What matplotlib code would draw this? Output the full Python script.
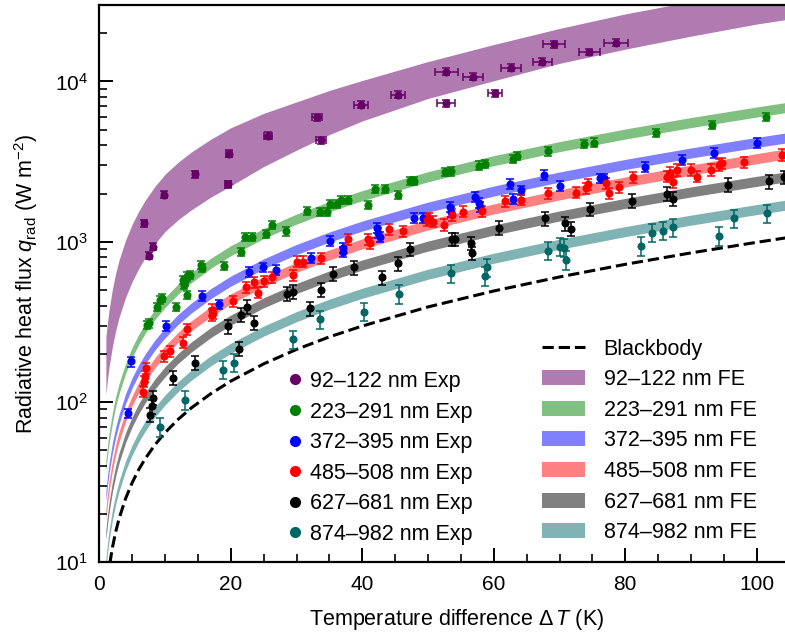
import numpy as np
import matplotlib
matplotlib.use("Agg")
import matplotlib.pyplot as plt
from matplotlib.lines import Line2D
from matplotlib.patches import Patch
from matplotlib.ticker import MultipleLocator

plt.rcParams["font.family"] = ["Liberation Sans", "DejaVu Sans"]
plt.rcParams["mathtext.fontset"] = "custom"
plt.rcParams["mathtext.rm"] = "Liberation Sans"
plt.rcParams["mathtext.it"] = "Liberation Sans:italic"

# temperature grid for the model curves (K)
dT_grid = [1, 1.25, 1.5, 2, 2.5, 3, 4, 5, 6, 7, 8.5, 10, 12, 14, 17, 20, 25, 30,
           35, 40, 50, 60, 70, 80, 90, 100, 105]

blackbody = [6.2, 7.7, 9.25, 12.4, 15.5, 18.7, 25.0, 31.4, 37.9, 44.4, 54.3, 64.4,
             78.0, 91.9, 113, 135, 173, 213, 255, 298, 392, 493, 603, 723, 852,
             992, 1066]

# 92-122 nm FE band, lower and upper bound
fe_purple_lo = [111, 139, 167, 223, 279, 337, 450, 565, 681, 799, 977, 1159, 1373,
                1581, 1903, 2232, 2946, 3729, 4663, 5670, 7832, 10107, 12973,
                15908, 19179, 22823, 24525]
fe_purple_hi = [254, 316, 379, 508, 636, 767, 1025, 1287, 1552, 1820, 2226, 2640,
                3136, 3631, 4373, 5141, 6325, 7459, 8791, 10146, 13314, 17009,
                21421, 26393, 31539, 36715, 39453]

# narrow FE bands: centre values
fe_green = [40, 50, 60, 80, 101, 121, 162, 204, 246, 289, 353, 418, 507, 597, 736,
            879, 1126, 1385, 1656, 1940, 2545, 3205, 3922, 4700, 5541, 6450, 6931]
fe_blue = [25.8, 32.3, 38.9, 52, 65, 78, 105, 132, 159, 186, 228, 270, 328, 386,
           476, 568, 728, 895, 1070, 1253, 1645, 2071, 2534, 3037, 3580, 4168, 4478]
fe_red = [20, 25, 30, 40.2, 50.4, 60.6, 81.2, 102, 123, 144, 176.5, 209, 253.5,
          298.7, 368, 440, 563, 693, 828, 970, 1273, 1602, 1961, 2360, 2800, 3300,
          3560]
fe_gray = [14.8, 18.5, 22.2, 29.7, 37.2, 44.8, 60, 75.3, 90.9, 106.5, 130.3, 154.5,
           187.2, 220.6, 272, 324.7, 416, 511, 612, 716, 940, 1183, 1448, 1735,
           2046, 2382, 2559]
fe_teal = [9.8, 12.3, 14.8, 19.8, 24.8, 29.8, 40, 50.2, 60.6, 71, 86.9, 103, 124.8,
           147, 181.3, 216.5, 277, 341, 408, 477, 627, 789, 965, 1157, 1364, 1588,
           1706]
fe_spread = 1.075  # half-width factor of the narrow bands

# measured points
exp_purple_dT = [6.8, 8.1, 7.6, 9.9, 14.5, 19.7, 19.6, 25.6, 33.1, 33.7, 39.8, 45.4,
                 52.8, 52.7, 56.8, 60.2, 62.6, 67.4, 69.2, 74.5, 78.6]
exp_purple_q = [1306, 934, 817, 1963, 2630, 3540, 2290, 4600, 5960, 4290, 7160, 8260,
                11530, 7330, 10740, 8470, 12220, 13270, 17020, 15290, 17500]
exp_purple_xerr = [0.3, 0.3, 0.3, 0.3, 0.3, 0.5, 0.5, 0.6, 0.8, 0.8, 1.0, 1.1, 1.7,
                   1.4, 1.5, 1.1, 1.5, 1.5, 1.7, 1.6, 1.8]

exp_green_dT = [7.2, 7.5, 8.8, 9.3, 9.6, 11.7, 12.7, 12.9, 13.0, 13.3, 13.4, 13.8,
                15.5, 15.6, 19.0, 21.6, 22.2, 23.3, 25.3, 26.2, 28.4, 31.6, 33.5,
                34.6, 35.1, 36.1, 36.7, 37.9, 40.8, 41.9, 43.5, 45.5, 47.2, 47.9,
                52.6, 53.5, 57.7, 58.7, 63.0, 63.5, 68.3, 73.7, 75.3, 84.7, 93.2,
                101.4]
exp_green_q = [303, 310, 391, 434, 447, 394, 578, 538, 565, 607, 467, 621, 718, 684,
               710, 868, 1070, 1070, 1120, 1276, 1160, 1560, 1540, 1540, 1726, 1726,
               1830, 1830, 1700, 2140, 2140, 1963, 2400, 2390, 2730, 2750, 2990,
               3060, 3280, 3440, 3660, 4080, 4160, 4760, 5370, 6040]

exp_blue_dT = [4.4, 4.8, 10.1, 15.6, 18.2, 22.8, 24.9, 26.9, 32.2, 35.1, 37.0, 37.1,
               42.3, 42.4, 42.7, 47.9, 49.2, 53.3, 53.5, 57.2, 57.7, 57.9, 62.4,
               62.9, 64.1, 67.7, 70.1, 76.2, 76.7, 83.0, 88.7, 93.5, 100.0]
exp_blue_q = [85, 179, 299, 459, 407, 651, 693, 668, 790, 1014, 912, 868, 1216, 1132,
              1070, 1403, 1403, 1645, 1540, 1915, 1740, 1645, 2300, 1846, 2090, 2620,
              2230, 2490, 2490, 2930, 3245, 3575, 4160]

exp_red_dT = [6.7, 6.8, 7.0, 7.1, 9.9, 10.8, 12.7, 13.4, 17.1, 17.2, 17.3, 20.4,
              22.3, 23.6, 24.1, 25.1, 26.2, 29.4, 30.1, 31.0, 33.7, 37.9, 40.8, 41.2,
              44.1, 46.2, 49.8, 50.2, 50.8, 52.4, 53.6, 55.3, 58.2, 61.7, 64.1, 68.3,
              72.5, 74.0, 74.4, 77.1, 77.6, 79.1, 81.2, 86.3, 86.8, 87.2, 87.8, 90.0,
              90.9, 93.0, 94.2, 94.7, 98.0, 103.8]
exp_red_q = [116, 134, 144, 163, 194, 207, 235, 285, 376, 350, 358, 424, 521, 560,
             482, 565, 601, 621, 751, 751, 790, 1038, 1038, 980, 1199, 1160, 1371,
             1403, 1336, 1276, 1472, 1540, 1550, 1783, 1830, 2010, 2028, 2160, 2290,
             2320, 2010, 2190, 2520, 2550, 2700, 2345, 2810, 2810, 2550, 2810, 3020,
             3100, 3140, 3490]

exp_black_dT = [7.7, 8.0, 8.1, 11.2, 14.6, 19.5, 21.3, 21.5, 22.4, 23.5, 28.5, 29.5,
                32.1, 33.7, 35.5, 38.8, 43.0, 45.4, 47.3, 53.6, 54.1, 56.5, 56.7,
                60.8, 67.8, 70.8, 71.7, 74.6, 81.1, 86.3, 87.2, 95.7, 101.9, 104.2]
exp_black_q = [83, 94, 106, 141, 175, 296, 214, 350, 391, 313, 473, 489, 385, 501,
               631, 693, 601, 735, 899, 1038, 1038, 980, 849, 1227, 1403, 1306, 1199,
               1597, 1807, 1990, 1853, 2265, 2377, 2530]

exp_teal_dT = [9.2, 13.1, 18.8, 20.5, 29.4, 33.6, 40.3, 45.6, 53.5, 58.7, 58.9, 68.2,
               70.1, 70.7, 71.0, 82.4, 84.0, 85.7, 87.2, 94.3, 96.6, 101.5]
exp_teal_q = [70, 103, 159, 176, 247, 329, 367, 473, 637, 612, 693, 881, 934, 920, 771,
              942, 1141, 1175, 1233, 1089, 1403, 1507]

# relative vertical uncertainty of each measured series
exp_rel_err = [0.05, 0.06, 0.07, 0.08, 0.10, 0.13]

band_labels = ["92–122 nm", "223–291 nm", "372–395 nm", "485–508 nm", "627–681 nm",
               "874–982 nm"]
exp_colors = ["#660066", "#008000", "#0000ff", "#ff0000", "#000000", "#006666"]
band_colors = ["#b07bb0", "#80c080", "#8080ff", "#ff8080", "#808080", "#80b3b3"]

fig = plt.figure(figsize=(7.85, 6.34), dpi=100)
ax = fig.add_axes([0.1265, 0.1131, 0.8735, 0.879])

x = np.array(dT_grid)
ax.fill_between(x, fe_purple_lo, fe_purple_hi, color=band_colors[0], lw=0, zorder=1)
for c, col in zip([fe_green, fe_blue, fe_red, fe_gray, fe_teal], band_colors[1:]):
    c = np.array(c)
    ax.fill_between(x, c / fe_spread, c * fe_spread, color=col, lw=0, zorder=1)

ax.plot(dT_grid, blackbody, "k--", lw=2.2, zorder=2)

series = [(exp_purple_dT, exp_purple_q), (exp_green_dT, exp_green_q),
          (exp_blue_dT, exp_blue_q), (exp_red_dT, exp_red_q),
          (exp_black_dT, exp_black_q), (exp_teal_dT, exp_teal_q)]
for i, (dt, q) in enumerate(series):
    q = np.array(q)
    xe = exp_purple_xerr if i == 0 else None
    ax.errorbar(dt, q, yerr=q * exp_rel_err[i], xerr=xe, fmt="o", ms=4.8,
                color=exp_colors[i], ecolor=exp_colors[i], elinewidth=1.1,
                capsize=2.6, capthick=1.1, zorder=3)

ax.set_yscale("log")
ax.set_xlim(0, 104.3)
ax.set_ylim(10, 3e4)
ax.xaxis.set_major_locator(MultipleLocator(20))
ax.xaxis.set_minor_locator(MultipleLocator(5))
ax.tick_params(which="both", direction="in", top=False, right=False, labelsize=15)
ax.tick_params(which="major", length=10, width=1.4)
ax.tick_params(which="minor", length=5.5, width=1.2)
ax.tick_params(axis="x", pad=9)
ax.tick_params(axis="y", pad=8)
for s in ["left", "bottom", "top"]:
    ax.spines[s].set_linewidth(1.6)
ax.spines["right"].set_visible(False)

ax.set_xlabel("Temperature difference Δ$\\,T$ (K)", fontsize=15.5)
ax.set_ylabel("Radiative heat flux $q_{\\rm rad}$ (W m$^{-2}$)", fontsize=15.5)
ax.xaxis.set_label_coords(0.521, -0.081)
ax.yaxis.set_label_coords(-0.0865, 0.5)

exp_handles = [Line2D([], [], marker="o", ls="", ms=7, color=c) for c in exp_colors]
fig.legend(exp_handles, [l + " Exp" for l in band_labels], loc="upper left",
           bbox_to_anchor=(0.3651, 0.4149), frameon=False, fontsize=15.5,
           handlelength=0.8, handletextpad=0.3, labelspacing=0.445,
           borderpad=0, borderaxespad=0)

fe_handles = [Line2D([], [], color="k", ls="--", lw=2.2)]
fe_handles += [Patch(facecolor=c, edgecolor="none") for c in band_colors]
fig.legend(fe_handles, ["Blackbody"] + [l + " FE" for l in band_labels],
           loc="upper left", bbox_to_anchor=(0.690, 0.4658), frameon=False,
           fontsize=15.5, handlelength=2.0, handleheight=0.7, handletextpad=0.88,
           labelspacing=0.445, borderpad=0, borderaxespad=0)

fig.savefig("out.png", dpi=100)
